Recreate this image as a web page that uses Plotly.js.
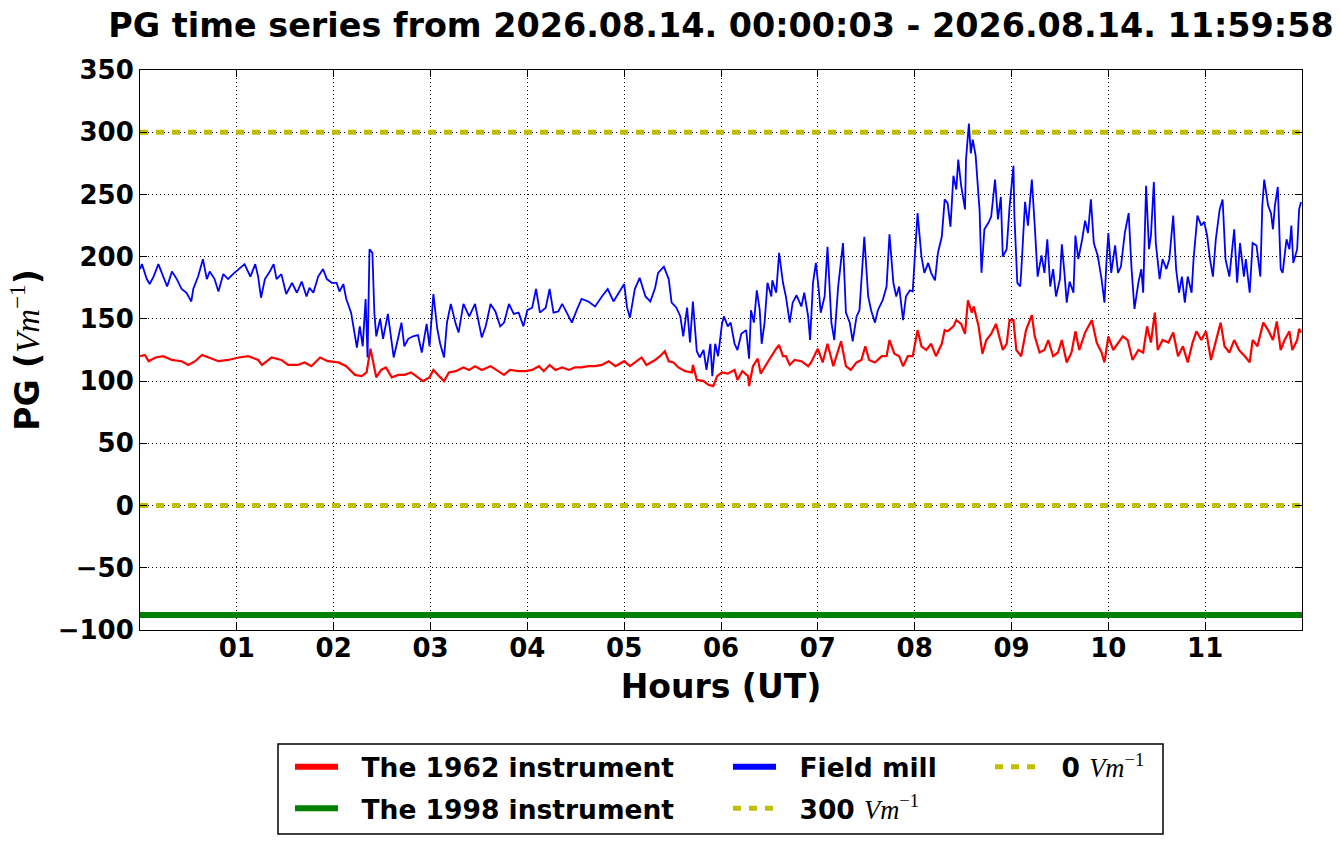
<!DOCTYPE html>
<html>
<head>
<meta charset="utf-8">
<script src="https://cdn.plot.ly/plotly-3.0.1.min.js"></script>
<style>html,body{margin:0;padding:0;background:#fff;}#chart{width:1341px;height:844px;}</style>
</head>
<body>
<div id="chart"></div>
<script>
// ---- data (hours UT, PG in V/m) ----
const blueT = [
0.00,0.02,0.07,0.10,0.14,0.19,0.23,0.28,0.33,0.38,0.43,0.48,0.53,0.55,0.60,0.65,0.69,0.72,0.77,0.81,0.86,0.91,0.96,1.02,1.08,1.14,1.19,1.22,1.25,1.29,1.34,1.38,1.41,1.46,1.51,1.57,1.62,1.67,1.72,1.75,1.79,1.84,1.89,1.93,1.98,2.03,2.06,2.10,2.13,2.18,2.24,2.27,2.30,2.33,2.35,2.37,2.40,2.42,2.44,2.48,2.51,2.56,2.60,2.62,2.67,2.70,2.73,2.77,2.82,2.87,2.91,2.96,2.99,
3.03,3.07,3.10,3.14,3.17,3.21,3.26,3.29,3.34,3.40,3.46,3.53,3.57,3.62,3.67,3.72,3.76,3.81,3.86,3.91,3.96,4.00,4.05,4.09,4.13,4.19,4.23,4.27,4.32,4.36,4.41,4.46,4.51,4.56,4.63,4.70,4.77,4.83,4.89,4.94,5.00,5.03,5.06,5.11,5.16,5.22,5.27,5.32,5.35,5.41,5.46,5.49,5.54,5.58,5.61,5.65,5.68,5.71,5.75,5.78,5.82,5.85,5.89,5.91,5.94,5.97,6.01,
6.03,6.07,6.10,6.14,6.17,6.21,6.26,6.29,6.31,6.34,6.37,6.40,6.42,6.45,6.48,6.52,6.53,6.57,6.60,6.64,6.67,6.71,6.74,6.78,6.83,6.86,6.90,6.92,6.95,6.98,7.01,7.03,7.07,7.10,7.14,7.17,7.21,7.26,7.29,7.33,7.36,7.40,7.43,7.48,7.52,7.55,7.59,7.62,7.67,7.71,7.74,7.78,7.81,7.84,7.88,7.91,7.95,7.98,8.00,8.03,8.07,8.10,8.14,8.17,8.21,8.24,8.28,8.31,8.34,8.37,8.40,8.43,8.45,8.48,8.52,8.53,8.56,8.58,8.60,8.63,8.66,8.67,8.69,8.72,8.76,8.79,8.83,8.86,8.89,8.91,8.95,8.98,
9.02,9.03,9.06,9.09,9.10,9.14,9.17,9.21,9.24,9.27,9.31,9.34,9.37,9.40,9.43,9.46,9.50,9.52,9.55,9.57,9.60,9.64,9.66,9.69,9.73,9.76,9.79,9.82,9.85,9.89,9.93,9.96,9.98,10.00,10.03,10.07,10.10,10.13,10.17,10.21,10.24,10.27,10.31,10.34,10.36,10.39,10.42,10.44,10.47,10.49,10.53,10.56,10.60,10.63,10.67,10.70,10.73,10.76,10.79,10.82,10.86,10.88,10.92,10.96,10.99,11.02,11.05,11.08,11.11,11.15,11.18,11.21,11.25,11.30,11.33,11.36,11.40,11.42,11.46,11.49,11.53,11.57,11.59,11.61,11.65,11.68,11.70,11.72,11.75,11.78,11.80,11.84,11.87,11.89,11.91,11.95,11.97,11.99
];
const blueV = [
190,194,182,178,184,194,186,176,188,182,174,171,164,174,184,198,182,188,182,172,186,182,186,190,194,184,194,184,167,182,188,194,182,186,170,179,171,180,168,175,171,184,190,182,179,179,172,178,166,155,127,144,128,166,119,206,203,155,136,150,134,154,128,119,136,147,128,134,136,137,123,146,128,
170,142,130,119,147,162,146,139,162,152,162,135,144,162,156,144,147,162,154,155,144,157,159,174,155,159,174,155,156,162,154,147,157,166,164,160,168,174,164,170,178,159,151,174,183,168,164,175,187,192,182,163,159,152,136,159,131,164,124,119,125,109,130,104,130,120,146,
152,144,147,130,125,138,141,118,157,147,173,157,130,147,179,168,181,171,203,179,168,147,163,169,160,171,152,133,179,195,173,155,168,208,147,133,176,211,155,147,132,152,157,216,168,157,147,157,165,176,218,179,168,176,149,168,173,172,198,235,200,187,195,187,181,203,216,246,243,224,265,254,278,257,238,278,307,283,294,281,248,238,187,222,227,232,262,230,248,200,206,240,
273,233,179,176,187,244,225,262,225,184,201,187,214,176,190,168,182,210,184,163,180,171,217,198,214,229,219,246,211,201,182,163,195,219,187,209,187,192,219,235,190,158,179,190,171,257,206,217,260,211,182,198,190,198,233,190,171,184,163,184,171,198,233,225,228,217,198,184,214,238,246,198,184,222,179,211,184,198,171,211,209,184,241,262,241,235,222,241,256,190,187,214,206,225,195,206,238,244
];
const redT = [
0.00,0.05,0.09,0.16,0.24,0.33,0.43,0.50,0.57,0.64,0.71,0.81,0.91,1.02,1.12,1.22,1.26,1.36,1.46,1.53,1.63,1.70,1.77,1.86,1.94,2.05,2.13,2.22,2.29,2.34,2.38,2.41,2.44,2.49,2.54,2.60,2.67,2.73,2.80,2.87,2.92,2.99,
3.03,3.09,3.14,3.19,3.26,3.34,3.40,3.46,3.53,3.62,3.70,3.76,3.82,3.91,3.98,4.05,4.12,4.17,4.23,4.29,4.36,4.43,4.49,4.56,4.63,4.70,4.77,4.84,4.91,5.00,5.06,5.11,5.18,5.23,5.32,5.37,5.42,5.46,5.51,5.56,5.63,5.70,5.71,5.75,5.82,5.87,5.92,5.96,6.01,
6.07,6.14,6.17,6.22,6.28,6.29,6.33,6.38,6.41,6.47,6.52,6.57,6.60,6.64,6.67,6.71,6.76,6.83,6.90,6.93,6.97,7.00,7.05,7.10,7.16,7.19,7.24,7.29,7.34,7.40,7.45,7.49,7.53,7.59,7.66,7.71,7.74,7.79,7.84,7.88,7.93,7.98,8.03,8.07,8.12,8.17,8.22,8.28,8.31,8.34,8.40,8.43,8.48,8.52,8.55,8.59,8.61,8.66,8.70,8.74,8.79,8.84,8.88,8.91,8.95,8.98,
9.02,9.05,9.10,9.15,9.21,9.24,9.29,9.34,9.38,9.43,9.48,9.52,9.57,9.62,9.66,9.70,9.76,9.83,9.88,9.93,9.96,10.00,10.05,10.10,10.15,10.20,10.25,10.31,10.36,10.40,10.44,10.48,10.51,10.56,10.62,10.67,10.72,10.77,10.82,10.87,10.91,10.96,11.01,11.06,11.11,11.16,11.20,11.25,11.30,11.35,11.41,11.46,11.49,11.54,11.60,11.65,11.70,11.74,11.78,11.82,11.87,11.90,11.95,11.97,11.99
];
const redV = [
120,121,116,119,120,117,116,113,116,121,119,116,117,119,120,117,113,119,117,113,113,115,112,119,116,115,112,105,104,107,126,115,103,109,111,103,105,105,107,103,100,103,
109,104,100,107,108,111,109,112,109,112,108,105,109,108,108,109,112,108,113,109,111,109,111,111,112,112,113,116,112,116,112,115,119,113,117,120,124,116,115,111,108,107,113,101,100,97,96,104,107,
106,109,101,108,104,96,112,118,106,114,120,126,129,120,120,113,117,116,112,115,122,126,115,130,112,120,132,112,109,115,117,128,117,115,120,120,133,122,120,112,120,120,141,128,125,130,120,130,141,140,144,149,146,138,165,155,160,144,122,133,138,146,134,125,130,149,
149,125,120,141,153,136,123,125,133,120,123,133,115,123,140,125,139,149,131,123,115,136,125,131,136,133,117,125,123,144,131,155,125,133,131,139,120,128,115,131,140,133,140,117,133,147,128,123,133,125,120,115,133,128,147,141,133,148,125,133,140,125,133,142,139
];
const greenT = [0, 3, 6, 9, 12];
const greenV = [-88, -88, -88, -88, -88];
const refT = [0, 12];
const ref300 = [300, 300];
const ref0 = [0, 0];
const xTickVals = [1,2,3,4,5,6,7,8,9,10,11];
const xTickText = ['01','02','03','04','05','06','07','08','09','10','11'];
const yTickVals = [-100,-50,0,50,100,150,200,250,300,350];
const unit = '<span style="font-family:\'Liberation Serif\';font-weight:normal"><i>Vm</i><sup>−1</sup></span>';
const pad = '\u00a0\u00a0';
const names = {
  r: pad + 'The 1962 instrument',
  g: pad + 'The 1998 instrument',
  b: pad + 'Field mill',
  t300: pad + '300 ' + unit,
  t0: pad + '0 ' + unit
};

// ---- styling ----
const RED = '#ff0000', GREEN = '#008000', BLUE = '#0000ff', YEL = '#bfbf00';
const FONT = 'DejaVu Sans';
const W = 1341, H = 844, L = 140, R = 39, T = 70, B = 214;
const pw = W - L - R, ph = H - T - B;
const px2x = p => (p - L) / pw;
const py2y = p => (H - B - p) / ph;

const traces = [
  {x: redT, y: redV, mode: 'lines', line: {color: RED, width: 2.2}, showlegend: false, hoverinfo: 'skip'},
  {x: greenT, y: greenV, mode: 'lines', name: names.g, line: {color: GREEN, width: 6}, legend: 'legend', legendrank: 2, legendgroup: 'g'},
  {x: blueT, y: blueV, mode: 'lines', line: {color: BLUE, width: 1.8}, showlegend: false, hoverinfo: 'skip'},
  {x: refT, y: ref300, mode: 'lines', name: names.t300, line: {color: YEL, width: 5, dash: '8px,8px'}, legend: 'legend2', legendrank: 2, legendgroup: 't300'},
  {x: refT, y: ref0, mode: 'lines', name: names.t0, line: {color: YEL, width: 5, dash: '8px,8px'}, legend: 'legend3', legendrank: 1, legendgroup: 't0'},
  // legend-only entries (thick sample lines)
  {x: [null], y: [null], mode: 'lines', name: names.r, line: {color: RED, width: 6}, legend: 'legend', legendrank: 1, legendgroup: 'r'},
  {x: [null], y: [null], mode: 'lines', name: names.b, line: {color: BLUE, width: 6}, legend: 'legend2', legendrank: 1, legendgroup: 'b'}
];

const legFont = {family: FONT, size: 26.5, color: '#000', weight: 'bold'};
const legBase = {
  orientation: 'v', xanchor: 'left', yanchor: 'top', bgcolor: 'rgba(0,0,0,0)',
  borderwidth: 0, font: legFont, itemwidth: 43, tracegroupgap: 4, traceorder: 'grouped'
};
const legTop = py2y(743);

const axisCommon = {
  showline: true, linecolor: '#000', linewidth: 1, mirror: 'ticks',
  ticks: 'inside', ticklen: 7, tickwidth: 1, tickcolor: '#000',
  showgrid: true, gridcolor: '#000', gridwidth: 1, griddash: '1px,3px',
  zeroline: false,
  tickfont: {family: FONT, size: 26, color: '#000', weight: 'bold'}
};

const layout = {
  width: W, height: H,
  margin: {l: L, r: R, t: T, b: B, pad: 0},
  paper_bgcolor: '#fff', plot_bgcolor: '#fff',
  title: {
    text: 'PG time series from 2026.08.14. 00:00:03 - 2026.08.14. 11:59:58',
    font: {family: FONT, size: 33.4, color: '#000', weight: 'bold'},
    xref: 'paper', x: 0.5, xanchor: 'center',
    yref: 'container', y: 1 - 25 / H, yanchor: 'middle'
  },
  xaxis: Object.assign({}, axisCommon, {
    range: [0, 12], tickmode: 'array', tickvals: xTickVals, ticktext: xTickText,
    ticklabelstandoff: -5,
    title: {text: 'Hours (UT)', font: {family: FONT, size: 33, color: '#000', weight: 'bold'}, standoff: 12}
  }),
  yaxis: Object.assign({}, axisCommon, {
    range: [-100, 350], tickmode: 'array', tickvals: yTickVals,
    title: {text: 'PG (' + unit + ')', font: {family: FONT, size: 33, color: '#000', weight: 'bold'}, standoff: 8}
  }),
  legend: Object.assign({}, legBase, {x: px2x(290), y: legTop}),
  legend2: Object.assign({}, legBase, {x: px2x(728), y: legTop}),
  legend3: Object.assign({}, legBase, {x: px2x(990), y: legTop}),
  shapes: [{
    type: 'rect', xref: 'paper', yref: 'paper',
    x0: px2x(278), x1: px2x(1163), y0: py2y(834), y1: py2y(744),
    line: {color: '#000', width: 1.5}, fillcolor: 'rgba(0,0,0,0)', layer: 'above'
  }],
  showlegend: true
};

Plotly.newPlot('chart', traces, layout, {staticPlot: true, displayModeBar: false});
</script>
</body>
</html>
